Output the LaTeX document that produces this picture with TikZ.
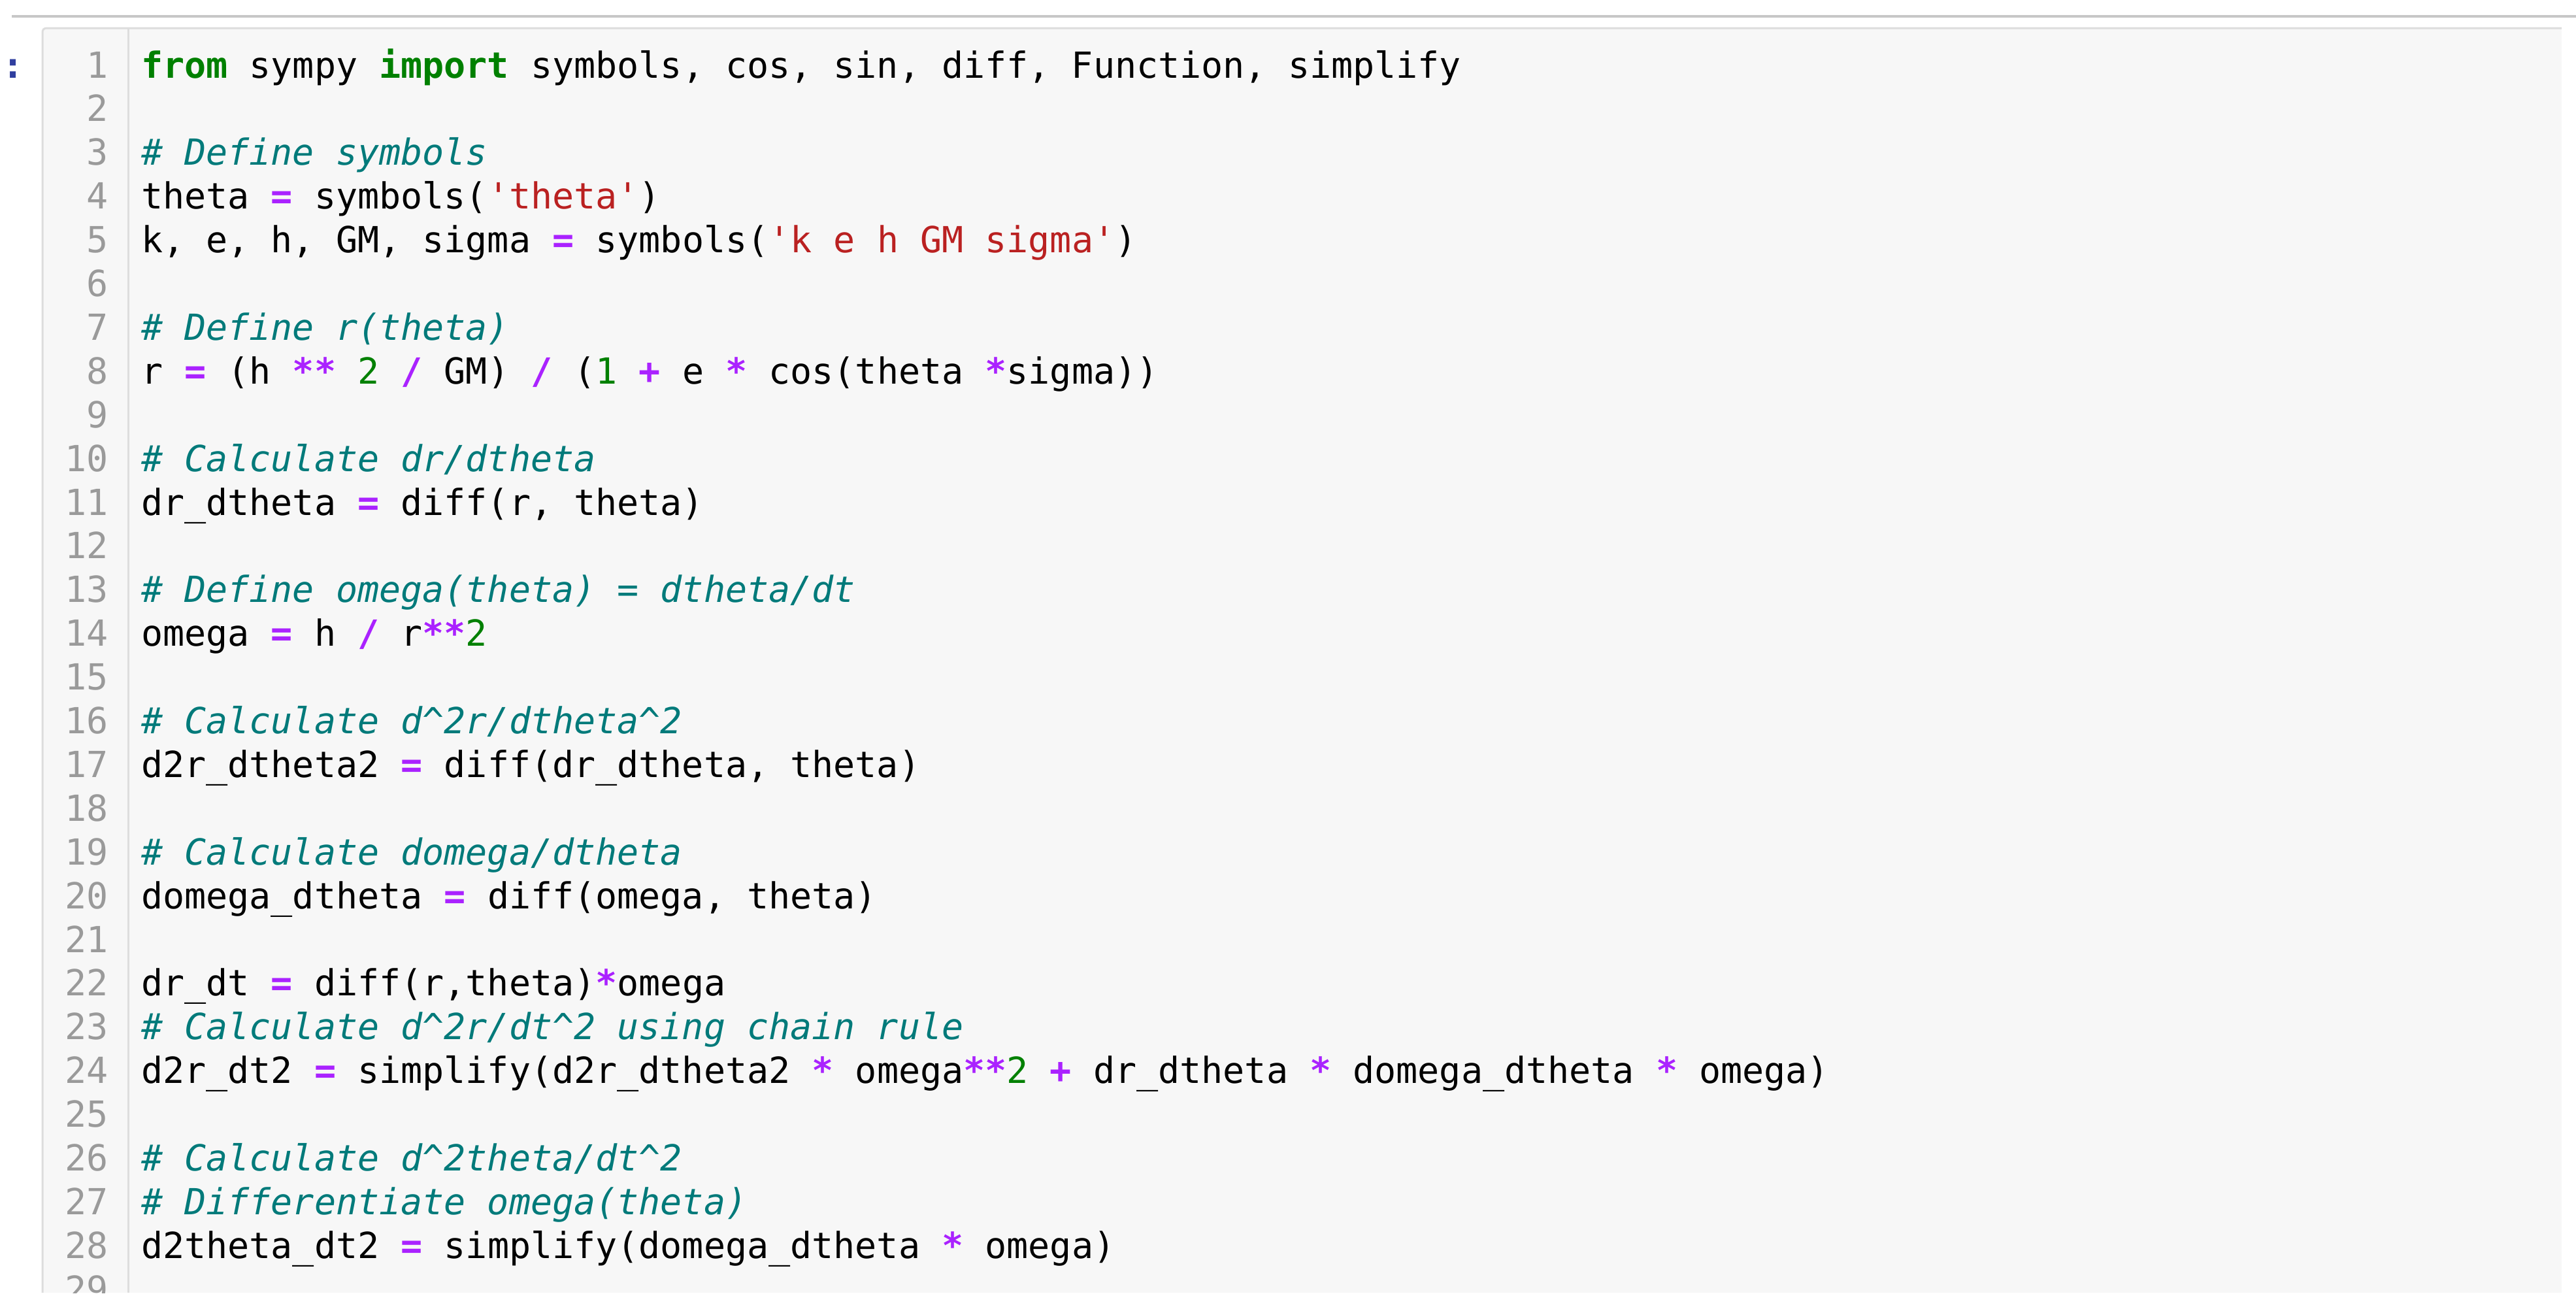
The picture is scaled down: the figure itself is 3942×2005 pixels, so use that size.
\documentclass[tikz,border=0pt]{standalone}
\usepackage{fontspec}
\newfontfamily\codefont{DejaVu Sans Mono}
\definecolor{kw}{HTML}{008000}
\definecolor{cm}{HTML}{007A7A}
\definecolor{st}{HTML}{BA2121}
\definecolor{op}{HTML}{AA22FF}
\definecolor{ln}{HTML}{9A9A9A}
\definecolor{bg}{HTML}{F7F7F7}
\definecolor{bd}{HTML}{DDDDDD}
\definecolor{pr}{HTML}{303F9F}
\newcommand\Kw[1]{\textcolor{kw}{\bfseries #1}}
\newcommand\Cm[1]{\textcolor{cm}{\itshape #1}}
\newcommand\St[1]{\textcolor{st}{#1}}
\newcommand\Op[1]{\textcolor{op}{\bfseries #1}}
\newcommand\Nm[1]{\textcolor{kw}{#1}}
\newcommand\us{\_}
\newcommand\ct{\textasciicircum}
\begin{document}
\begin{tikzpicture}[x=1pt,y=-1pt,
  code/.style={anchor=base west,inner sep=0pt,font=\codefont\fontsize{55}{66}\selectfont},
  num/.style={anchor=base east,inner sep=0pt,text=ln,font=\codefont\fontsize{55}{66}\selectfont}]
\useasboundingbox (0,0) rectangle (3942,2005);
\fill[white] (0,0) rectangle (3942,2005);
\draw[line width=4pt,color=black!22] (18,25) -- (3942,25);
\begin{scope}
\clip (65,43) rectangle (3920,1978);
\fill[bg] (65,43) rectangle (3920,1978);
\draw[bd,line width=3pt] (196,43) -- (196,1978);
\foreach \i in {1,...,29} {
  \node[num] (n\i) at (166,{100+(\i-1)*66.9+19}) {\i};
}
\def\L#1#2{\node[code] (c#1) at (216,{100+(#1-1)*66.9+19}) {#2};}
\L{1}{\Kw{from} sympy \Kw{import} symbols, cos, sin, diff, Function, simplify}
\L{3}{\Cm{\# Define symbols}}
\L{4}{theta \Op{=} symbols(\St{'theta'})}
\L{5}{k, e, h, GM, sigma \Op{=} symbols(\St{'k e h GM sigma'})}
\L{7}{\Cm{\# Define r(theta)}}
\L{8}{r \Op{=} (h \Op{**} \Nm{2} \Op{/} GM) \Op{/} (\Nm{1} \Op{+} e \Op{*} cos(theta \Op{*}sigma))}
\L{10}{\Cm{\# Calculate dr/dtheta}}
\L{11}{dr\us dtheta \Op{=} diff(r, theta)}
\L{13}{\Cm{\# Define omega(theta) = dtheta/dt}}
\L{14}{omega \Op{=} h \Op{/} r\Op{**}\Nm{2}}
\L{16}{\Cm{\# Calculate d\ct 2r/dtheta\ct 2}}
\L{17}{d2r\us dtheta2 \Op{=} diff(dr\us dtheta, theta)}
\L{19}{\Cm{\# Calculate domega/dtheta}}
\L{20}{domega\us dtheta \Op{=} diff(omega, theta)}
\L{22}{dr\us dt \Op{=} diff(r,theta)\Op{*}omega}
\L{23}{\Cm{\# Calculate d\ct 2r/dt\ct 2 using chain rule}}
\L{24}{d2r\us dt2 \Op{=} simplify(d2r\us dtheta2 \Op{*} omega\Op{**}\Nm{2} \Op{+} dr\us dtheta \Op{*} domega\us dtheta \Op{*} omega)}
\L{26}{\Cm{\# Calculate d\ct 2theta/dt\ct 2}}
\L{27}{\Cm{\# Differentiate omega(theta)}}
\L{28}{d2theta\us dt2 \Op{=} simplify(domega\us dtheta \Op{*} omega)}
\end{scope}
\draw[bd,line width=3pt,rounded corners=6pt] (65,1978) -- (65,43) -- (3920,43);
\node[anchor=base,inner sep=0pt,text=pr,font=\codefont\bfseries\fontsize{55}{66}\selectfont] (prompt) at (20,119) {:};
\end{tikzpicture}
\end{document}
